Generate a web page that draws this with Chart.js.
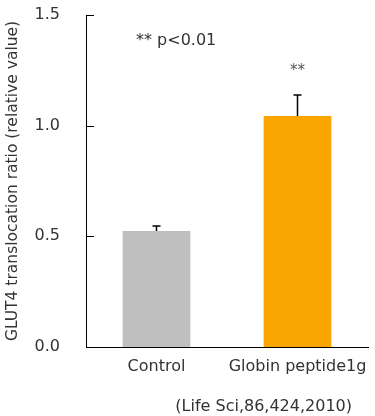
<!DOCTYPE html>
<html>
<head>
<meta charset="utf-8">
<script src="https://cdn.jsdelivr.net/npm/chart.js@4.4.1/dist/chart.umd.min.js"></script>
<style>
  html, body { margin:0; padding:0; background:#fff; }
  #wrap { position:relative; width:375px; height:416px; }
</style>
</head>
<body>
<div id="wrap"><canvas id="c"></canvas></div>
<script>
// data
const categories = ['Control', 'Globin peptide1g'];
const values = [0.524, 1.044];
const errors = [0.023, 0.095];
const barColors = ['#BFBFBF', '#FBA502'];
const yTicks = [0, 0.5, 1.0, 1.5];
const sigMarks = ['', '**'];

const FONT = 'DejaVu Sans';
const tc = '#333';

// error bars, inward tick marks and the text notes
const extras = {
  id: 'extras',
  afterDatasetsDraw(chart) {
    const ctx = chart.ctx, y = chart.scales.y, area = chart.chartArea;
    const meta = chart.getDatasetMeta(0);
    ctx.save();
    ctx.strokeStyle = '#000';
    ctx.lineWidth = 1.5;
    meta.data.forEach((bar, i) => {
      const top = y.getPixelForValue(values[i] + errors[i]);
      ctx.beginPath();
      ctx.moveTo(bar.x, bar.y);
      ctx.lineTo(bar.x, top);
      ctx.moveTo(bar.x - 4, top);
      ctx.lineTo(bar.x + 4, top);
      ctx.stroke();
      if (sigMarks[i]) {
        ctx.fillStyle = '#555';
        ctx.font = '15px "' + FONT + '"';
        ctx.textAlign = 'center';
        ctx.textBaseline = 'middle';
        ctx.fillText(sigMarks[i], bar.x, top - 24);
      }
    });
    // tick marks pointing into the plot
    ctx.lineWidth = 1;
    yTicks.forEach(v => {
      const py = Math.round(y.getPixelForValue(v)) + 0.5;
      ctx.beginPath();
      ctx.moveTo(area.left, py);
      ctx.lineTo(area.left + 8, py);
      ctx.stroke();
    });
    ctx.fillStyle = tc;
    ctx.font = '16px "' + FONT + '"';
    ctx.textAlign = 'left';
    ctx.textBaseline = 'middle';
    ctx.fillText('** p<0.01', area.left + 50, y.getPixelForValue(1.383));
    ctx.textAlign = 'right';
    ctx.fillText('(Life Sci,86,424,2010)', chart.width - 23, 407);
    ctx.restore();
  }
};

new Chart(document.getElementById('c'), {
  type: 'bar',
  data: {
    labels: categories,
    datasets: [{
      data: values,
      backgroundColor: barColors,
      borderWidth: 0,
      barPercentage: 0.96,
      categoryPercentage: 0.5
    }]
  },
  options: {
    responsive: true, maintainAspectRatio: false,
    animation: false,
    layout: { padding: { top: 15, right: 7, left: 0, bottom: 0 } },
    plugins: { legend: { display: false }, tooltip: { enabled: false } },
    scales: {
      x: {
        grid: { display: false, drawTicks: false },
        border: { color: '#000', width: 1 },
        ticks: { color: tc, font: { family: FONT, size: 16 }, padding: 10,
          maxRotation: 0, minRotation: 0, autoSkip: false },
        afterFit: s => { s.height = 69; s.paddingLeft = 0; s.paddingRight = 0; }
      },
      y: {
        min: 0, max: 1.5,
        afterBuildTicks: s => { s.ticks = yTicks.map(v => ({ value: v })); },
        grid: { display: false, drawTicks: false },
        border: { color: '#000', width: 1 },
        ticks: { color: tc, font: { family: FONT, size: 16 }, padding: 26,
          callback: v => v.toFixed(1) },
        title: { display: true, text: 'GLUT4 translocation ratio (relative value)',
          color: tc, font: { family: FONT, size: 15.5 }, padding: { top: 4, bottom: 0 } },
        afterFit: s => { s.width = 86; s.paddingTop = 0; s.paddingBottom = 0; }
      }
    }
  },
  plugins: [extras]
});
</script>
</body>
</html>
